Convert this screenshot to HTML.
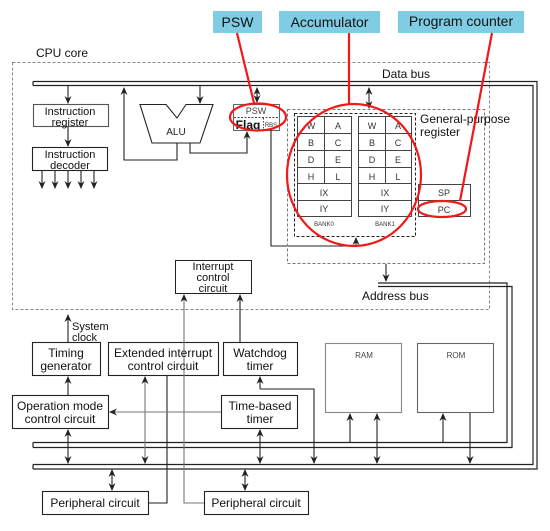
<!DOCTYPE html>
<html><head><meta charset="utf-8"><style>
html,body{margin:0;padding:0;background:#fff;}
svg{display:block;font-family:"Liberation Sans",sans-serif;}
</style></head><body>
<svg width="550" height="531" viewBox="0 0 550 531" xmlns="http://www.w3.org/2000/svg">
<defs>
<marker id="a" markerWidth="8" markerHeight="8" refX="7" refY="4" orient="auto" markerUnits="userSpaceOnUse"><path d="M0,0.5 L8,4 L0,7.5 L2.5,4z" fill="#222"/></marker>
</defs>
<rect x="213" y="11" width="49" height="22" fill="#7ecde4"/>
<text x="237.5" y="27" font-size="14" text-anchor="middle" fill="#111">PSW</text>
<rect x="279" y="11" width="101" height="22" fill="#7ecde4"/>
<text x="329.5" y="27" font-size="14" text-anchor="middle" fill="#111">Accumulator</text>
<rect x="398" y="11" width="126" height="22" fill="#7ecde4"/>
<text x="461" y="26" font-size="14" text-anchor="middle" fill="#111">Program counter</text>

<rect x="12.5" y="62.5" width="477" height="247" fill="none" stroke="#888" stroke-dasharray="3,2"/>
<text x="36" y="57" font-size="12" fill="#111">CPU core</text>
<text x="382" y="78" font-size="12" fill="#111">Data bus</text>

<g stroke="#222" fill="none" stroke-width="1.2">
<path d="M33,81.5 H537 V469 H33"/>
<path d="M33,85.5 H533 V464.5 H33"/>
<path d="M33,81.5 V85.5 M33,464.5 V469"/>
<path d="M33,442.5 H507 V283 H378"/>
<path d="M33,447.5 H512 V286.5 H378"/>
<path d="M33,442.5 V447.5"/>
</g>

<g stroke="#222" fill="none" stroke-width="1.1">
<rect x="33.5" y="104.5" width="75" height="22" stroke="#555"/>
<rect x="32.5" y="147.5" width="75" height="23"/>
<path d="M68,86 V103" marker-end="url(#a)"/>
<path d="M68,127 V146" marker-end="url(#a)"/>
<path d="M42,171 V188" marker-end="url(#a)"/>
<path d="M55,171 V188" marker-end="url(#a)"/>
<path d="M68,171 V188" marker-end="url(#a)"/>
<path d="M81,171 V188" marker-end="url(#a)"/>
<path d="M94,171 V188" marker-end="url(#a)"/>
<path d="M140,104.5 H166 L177,118 L186,104.5 H213 L200,143 H152 Z"/>
<path d="M200,86 V103" marker-end="url(#a)"/>
<path d="M177,143 V160 H124 V88" marker-end="url(#a)"/>
<path d="M190,143 V153 H247 V132" marker-end="url(#a)"/>
<rect x="233.5" y="104.5" width="46" height="26" stroke="#666"/>
<path d="M257,92 V102" marker-end="url(#a)"/>
<path d="M257,98 V88" marker-end="url(#a)"/>
<path d="M271,130 V246 H356 V238" marker-end="url(#a)"/>
<path d="M369,97 V108" marker-end="url(#a)"/>
<path d="M369,97 V88" marker-end="url(#a)"/>
<path d="M386,264 V281" marker-end="url(#a)"/>
</g>
<path d="M234,117.5 H279" stroke="#444" stroke-dasharray="2,1.5"/>
<path d="M263.5,118 V130" stroke="#444" stroke-dasharray="1.5,1.5"/>
<text x="256" y="114" font-size="9" text-anchor="middle" fill="#444">PSW</text>
<text x="248" y="129" font-size="12" text-anchor="middle" font-weight="bold" fill="#111">Flag</text>
<text x="271" y="127" font-size="6" text-anchor="middle" fill="#333">RBS</text>
<text x="176" y="135" font-size="10" text-anchor="middle" fill="#222">ALU</text>
<g font-size="11" text-anchor="middle" fill="#111">
<text x="70" y="115">Instruction</text><text x="70" y="126">register</text>
<text x="70" y="158">Instruction</text><text x="70" y="169">decoder</text>
</g>

<rect x="287.5" y="109.5" width="197" height="154" fill="none" stroke="#777" stroke-dasharray="3,2"/>
<rect x="294.5" y="113.5" width="121" height="123" fill="none" stroke="#222" stroke-dasharray="3,2"/>
<text x="420" y="123" font-size="12" fill="#111">General-purpose</text>
<text x="420" y="136" font-size="12" fill="#111">register</text>
<g stroke="#444" fill="none" stroke-width="1">
<rect x="297.5" y="116.5" width="54" height="100"/>
<path d="M298,133.5H351M298,150.5H351M298,167.5H351M298,183.5H351M298,200.5H351M324.5,117V183"/>
<rect x="358.5" y="116.5" width="53" height="100"/>
<path d="M359,133.5H411M359,150.5H411M359,167.5H411M359,183.5H411M359,200.5H411M385.5,117V183"/>
<rect x="418.5" y="184.5" width="52" height="32"/>
<path d="M419,200.5H470"/>
</g>
<g font-size="9" fill="#333" text-anchor="middle">
<text x="311" y="129">W</text><text x="338" y="129">A</text>
<text x="311" y="146">B</text><text x="338" y="146">C</text>
<text x="311" y="163">D</text><text x="338" y="163">E</text>
<text x="311" y="180">H</text><text x="338" y="180">L</text>
<text x="324" y="196">IX</text><text x="324" y="212">IY</text>
<text x="372" y="129">W</text><text x="398" y="129">A</text>
<text x="372" y="146">B</text><text x="398" y="146">C</text>
<text x="372" y="163">D</text><text x="398" y="163">E</text>
<text x="372" y="180">H</text><text x="398" y="180">L</text>
<text x="385" y="196">IX</text><text x="385" y="212">IY</text>
<text x="444" y="196">SP</text><text x="444" y="213">PC</text>
<text x="324" y="226" font-size="6">BANK0</text><text x="385" y="226" font-size="6">BANK1</text>
</g>
<text x="362" y="300" font-size="12" fill="#111">Address bus</text>

<rect x="175.5" y="260.5" width="76" height="33" fill="none" stroke="#222"/>
<g font-size="11" text-anchor="middle" fill="#111">
<text x="213" y="270">Interrupt</text><text x="213" y="281">control</text><text x="213" y="292">circuit</text>
</g>

<g stroke="#222" fill="none" stroke-width="1.1">
<rect x="32.5" y="342.5" width="68" height="33"/>
<rect x="108.5" y="342.5" width="110" height="33"/>
<rect x="223.5" y="342.5" width="74" height="33"/>
<rect x="12.5" y="395.5" width="96" height="33"/>
<rect x="221.5" y="395.5" width="76" height="33"/>
<rect x="42.5" y="491.5" width="106" height="23"/>
<rect x="204.5" y="491.5" width="104" height="23"/>
<rect x="325.5" y="343.5" width="76" height="69" stroke="#888"/>
<rect x="417.5" y="343.5" width="76" height="69" stroke="#666"/>
<path d="M68,342 V315" marker-end="url(#a)"/>
<path d="M68,395 V377" marker-end="url(#a)"/>
<path d="M68,446 V430" marker-end="url(#a)"/>
<path d="M68,446 V463" marker-end="url(#a)"/>
<path d="M167,376 V503 H149"/>
<path d="M240,342 V295" marker-end="url(#a)"/>
<path d="M260,389 V377" marker-end="url(#a)"/>
<path d="M260,389 H314 V463" marker-end="url(#a)"/>
<path d="M260,446 V430" marker-end="url(#a)"/>
<path d="M260,446 V463" marker-end="url(#a)"/>
<path d="M112,480 V470" marker-end="url(#a)"/>
<path d="M112,480 V490" marker-end="url(#a)"/>
<path d="M245,480 V470" marker-end="url(#a)"/>
<path d="M245,480 V490" marker-end="url(#a)"/>
<path d="M350,442 V414" marker-end="url(#a)"/>
<path d="M377,438 V414" marker-end="url(#a)"/>
<path d="M377,438 V463" marker-end="url(#a)"/>
<path d="M443,442 V414" marker-end="url(#a)"/>
<path d="M470,413 V463" marker-end="url(#a)"/>
</g>
<g stroke="#777" fill="none" stroke-width="1.1">
<path d="M145,420 V377" marker-end="url(#a)"/>
<path d="M145,420 V463" marker-end="url(#a)"/>
<path d="M204,503 H184 V295" marker-end="url(#a)"/>
<path d="M221,412 H110" marker-end="url(#a)"/>
</g>
<g font-size="12" text-anchor="middle" fill="#111">
<text x="72" y="330" text-anchor="start" font-size="11">System</text>
<text x="72" y="341" text-anchor="start" font-size="11">clock</text>
<text x="66" y="357">Timing</text><text x="66" y="370">generator</text>
<text x="163" y="357">Extended interrupt</text><text x="163" y="370">control circuit</text>
<text x="260" y="357">Watchdog</text><text x="260" y="370">timer</text>
<text x="60" y="410">Operation mode</text><text x="60" y="423">control circuit</text>
<text x="260" y="410">Time-based</text><text x="260" y="423">timer</text>
<text x="95" y="507">Peripheral circuit</text>
<text x="256" y="507">Peripheral circuit</text>
<text x="364" y="358" font-size="8" fill="#444">RAM</text>
<text x="456" y="358" font-size="8" fill="#444">ROM</text>
</g>

<g stroke="#f01818" stroke-width="2.2" fill="none">
<ellipse cx="258" cy="117" rx="28" ry="13.5"/>
<ellipse cx="354" cy="175" rx="67" ry="71"/>
<ellipse cx="442" cy="209" rx="24" ry="8"/>
<path d="M237,33 L254,103"/>
<path d="M349,33 V105"/>
<path d="M492,33 L460,201"/>
</g>
</svg>
</body></html>
